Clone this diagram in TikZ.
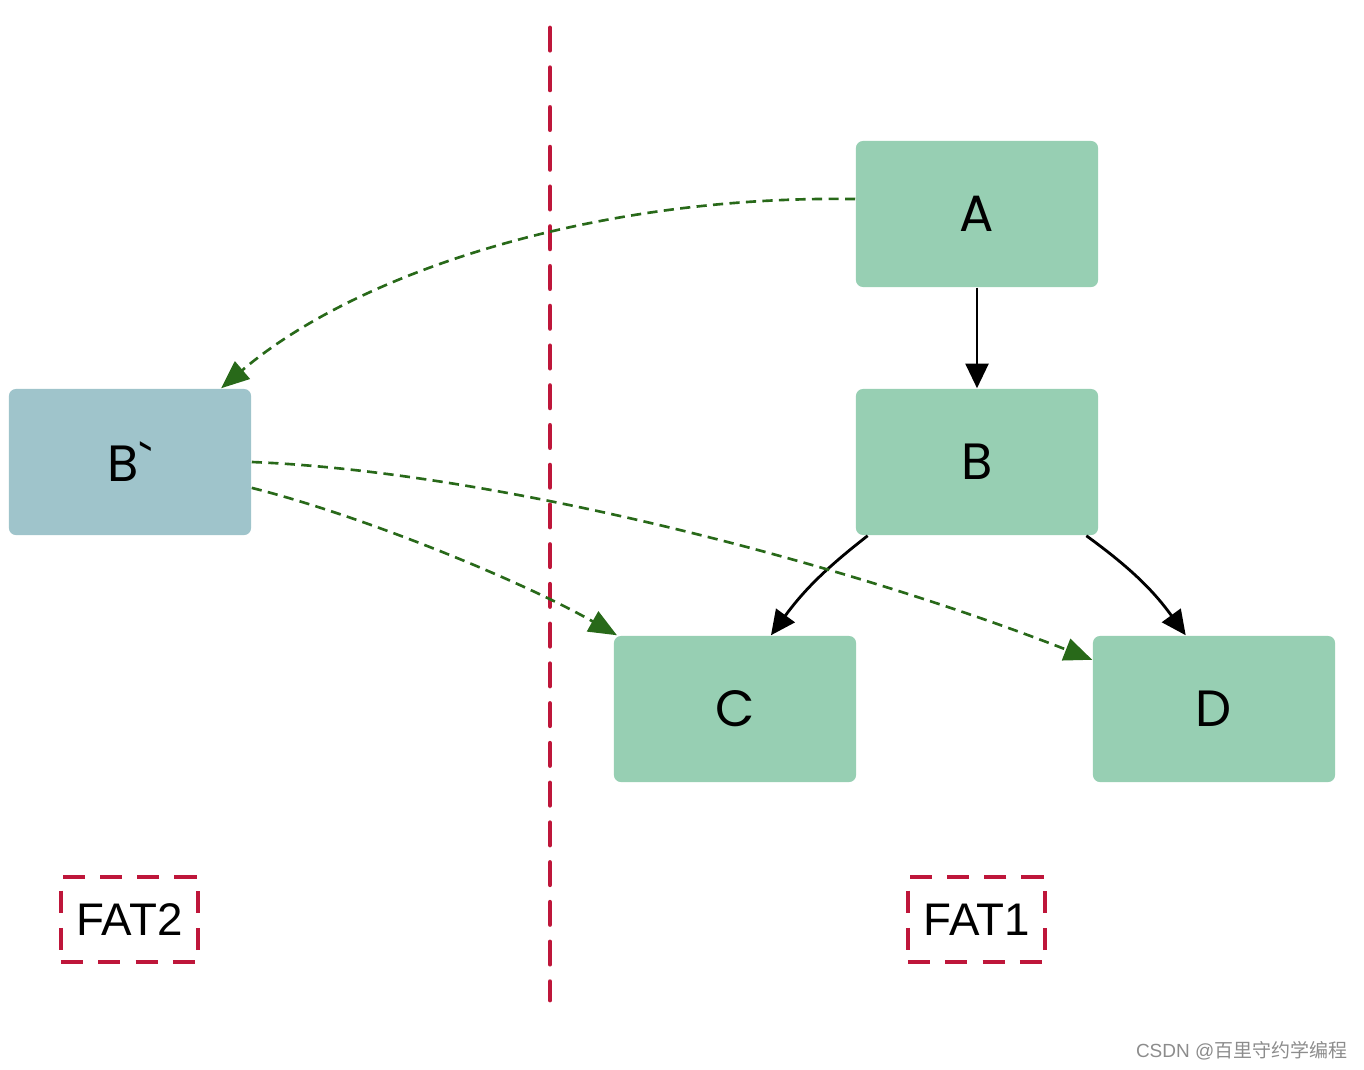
\documentclass[tikz,border=0pt]{standalone}
\usepackage{fontspec}
\setmainfont{Liberation Sans}
\newfontfamily\boxfont{Poppins}
\newfontfamily\cjk{Noto Sans CJK SC}
\usetikzlibrary{arrows.meta, positioning}

\definecolor{fatgreen}{RGB}{151,207,179}
\definecolor{copyblue}{RGB}{159,196,203}
\definecolor{linkgreen}{RGB}{40,105,25}
\definecolor{fatred}{RGB}{190,22,58}

\begin{document}
\begin{tikzpicture}[
    x=0.01cm, y=-0.01cm,
    >=Stealth,
    block/.style={rectangle, rounded corners=2pt, minimum width=2.42cm, minimum height=1.46cm, fill=fatgreen, font=\boxfont\fontsize{14.5}{16}\selectfont, inner sep=0pt},
    copyblock/.style={block, fill=copyblue},
    tag/.style={rectangle, draw=fatred, line width=1.1pt, dash pattern=on 6.3pt off 4.3pt, minimum width=1.37cm, minimum height=0.85cm, font=\fontsize{13}{15}\selectfont, inner sep=0pt},
    link/.style={-{Triangle[length=7pt, width=6.5pt]}, draw=black, line width=0.8pt},
    copylink/.style={-{Triangle[length=8pt, width=6.5pt, fill=linkgreen]}, draw=linkgreen, line width=0.75pt, dash pattern=on 2.9pt off 1.8pt}
]
\useasboundingbox (0,0) rectangle (1364,1070);

% blocks
\node[block] (A) at (977,214) {A};
\node[block] (B) at (977,462) {B};
\node[copyblock] (Bp) at (130,462) {B`};
\node[block] (C) at (735,709) {C};
\node[block] (D) at (1214,709) {D};

% separator
\coordinate (sepTop) at (550,28);
\coordinate (sepBot) at (550,1000);
\draw[fatred, line width=1.4pt, line cap=round, dash pattern=on 6.3pt off 5pt] (sepTop) -- (sepBot);

% tags
\node[tag] (fat2) at (129.5,919.5) {FAT2};
\node[tag] (fat1) at (976.5,919.5) {FAT1};

% tree links
\draw[link] (A) -- (B);
\draw[link] (B.214) to[bend right=8] (C.64);
\draw[link] (B.-34) to[bend left=9] (D.111);

% copy links
\draw[copylink] (A.173) .. controls (600,195) and (360,270) .. (Bp.39);
\draw[copylink] (Bp.east) .. controls (500,472) and (850,565) .. (D.158);
\draw[copylink] (Bp.-12) .. controls (360,515) and (520,580) .. (C.148);

% watermark
\node[anchor=east, text=black!45, font=\fontsize{5.4}{6.5}\selectfont, inner sep=0pt] (mark) at (1348,1051) {CSDN @\cjk 百里守约学编程};
\end{tikzpicture}
\end{document}
